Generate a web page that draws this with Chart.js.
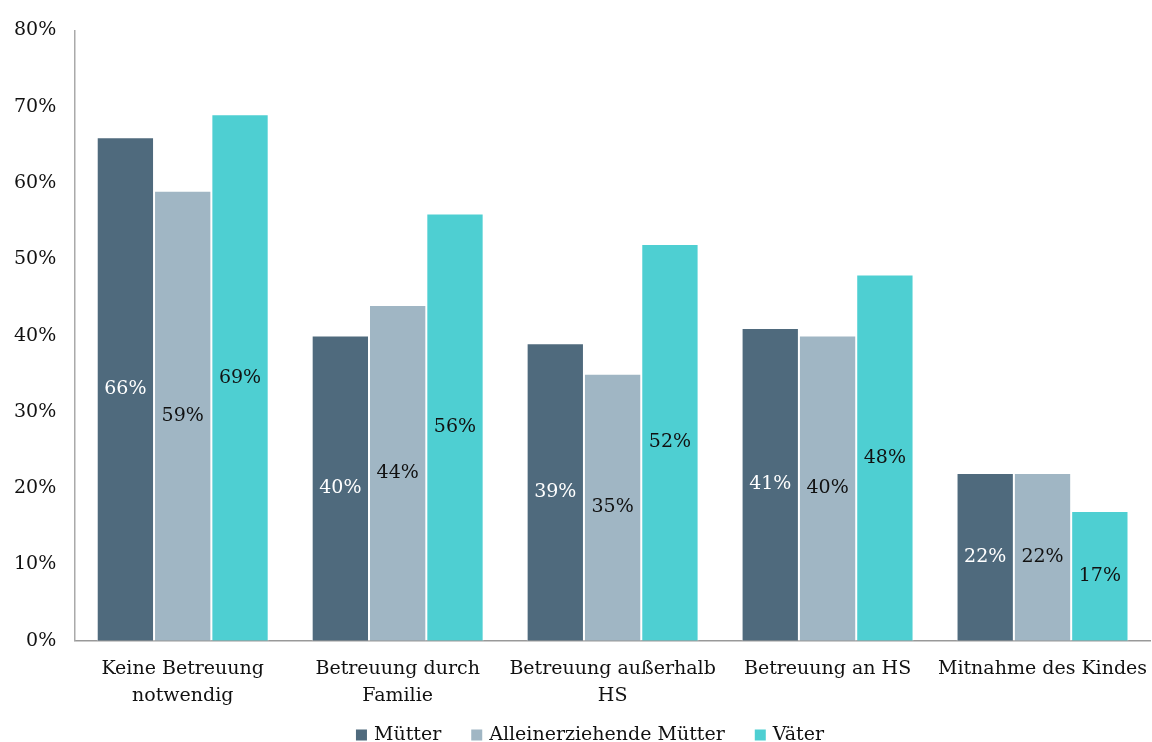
<!DOCTYPE html>
<html>
<head>
<meta charset="utf-8">
<script src="https://cdn.jsdelivr.net/npm/chart.js@4/dist/chart.umd.min.js"></script>
<style>
  html, body { margin: 0; padding: 0; background: #fff; }
  #wrap { width: 1152px; height: 742px; position: relative; }
</style>
</head>
<body>
<div id="wrap"><canvas id="c"></canvas></div>
<script>
const categories = [
  ['Keine Betreuung', 'notwendig'],
  ['Betreuung durch', 'Familie'],
  ['Betreuung außerhalb', 'HS'],
  'Betreuung an HS',
  'Mitnahme des Kindes'
];
const muetter = [66, 40, 39, 41, 22];
const alleinerziehende = [59, 44, 35, 40, 22];
const vaeter = [69, 56, 52, 48, 17];
const yTicks = [0, 10, 20, 30, 40, 50, 60, 70, 80];

const FONT = "'DejaVu Serif', serif";
const FS = 19;

// Value labels centred inside each bar
const barLabels = {
  id: 'barLabels',
  afterDatasetsDraw(chart) {
    const ctx = chart.ctx;
    ctx.save();
    ctx.font = FS + 'px ' + FONT;
    ctx.textAlign = 'center';
    ctx.textBaseline = 'middle';
    chart.data.datasets.forEach((ds, i) => {
      const meta = chart.getDatasetMeta(i);
      meta.data.forEach((bar, j) => {
        const y = (bar.y + bar.base) / 2;
        ctx.fillStyle = ds.labelColor;
        ctx.fillText(ds.data[j] + '%', bar.x, y);
      });
    });
    ctx.restore();
  }
};

// Single-row legend under the category labels
const bottomLegend = {
  id: 'bottomLegend',
  afterDraw(chart) {
    const ctx = chart.ctx;
    const box = 11, gapText = 7, gapItem = 30;
    ctx.save();
    ctx.font = FS + 'px ' + FONT;
    ctx.textBaseline = 'middle';
    const items = chart.data.datasets.map(ds => ({
      label: ds.label, color: ds.backgroundColor, w: ctx.measureText(ds.label).width
    }));
    const total = items.reduce((s, it) => s + box + gapText + it.w, 0) + gapItem * (items.length - 1);
    let x = chart.width / 2 + 14 - total / 2;
    const y = 735;
    items.forEach(it => {
      ctx.fillStyle = it.color;
      ctx.fillRect(x, y - box / 2, box, box);
      x += box + gapText;
      ctx.fillStyle = '#111';
      ctx.fillText(it.label, x, y);
      x += it.w + gapItem;
    });
    ctx.restore();
  }
};

new Chart(document.getElementById('c'), {
  type: 'bar',
  data: {
    labels: categories,
    datasets: [
      { label: 'Mütter', data: muetter, backgroundColor: '#4f6a7d', labelColor: '#ffffff' },
      { label: 'Alleinerziehende Mütter', data: alleinerziehende, backgroundColor: '#a0b6c4', labelColor: '#111111' },
      { label: 'Väter', data: vaeter, backgroundColor: '#4ecfd2', labelColor: '#111111' }
    ].map(d => Object.assign(d, { borderColor: 'rgba(255,255,255,0.85)', borderWidth: 1 }))
  },
  options: {
    responsive: true,
    maintainAspectRatio: false,
    animation: false,
    layout: { padding: { top: 16, right: 2, left: -5, bottom: 18 } },
    datasets: { bar: { categoryPercentage: 0.8, barPercentage: 1.0 } },
    plugins: {
      legend: { display: false },
      tooltip: { enabled: false }
    },
    scales: {
      x: {
        grid: { display: false, drawTicks: false },
        border: { color: '#999', width: 1.5 },
        ticks: { font: { family: FONT, size: FS, lineHeight: 1.4 }, color: '#111', padding: 15, maxRotation: 0 },
        afterFit(scale) { scale.paddingRight = 0; scale.paddingLeft = 0; }
      },
      y: {
        min: 0, max: 80,
        afterBuildTicks(scale) { scale.ticks = yTicks.map(v => ({ value: v })); },
        grid: { display: false, drawTicks: false },
        border: { color: '#aaa', width: 1.5 },
        ticks: {
          font: { family: FONT, size: FS }, color: '#111', padding: 19,
          callback: v => v + '%'
        }
      }
    }
  },
  plugins: [barLabels, bottomLegend]
});
</script>
</body>
</html>
